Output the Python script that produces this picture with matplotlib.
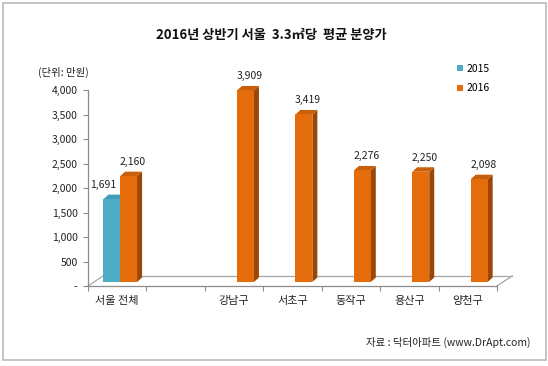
import matplotlib
matplotlib.use("Agg")
import matplotlib.pyplot as plt
from matplotlib.patches import Polygon, Rectangle
from matplotlib.ticker import FixedLocator, FuncFormatter
import numpy as np

plt.rcParams['font.family'] = ['Noto Sans CJK KR', 'DejaVu Sans']

# ---- data ----
categories = ['서울 전체', '', '강남구', '서초구', '동작구', '용산구', '양천구']
series_names = ['2015', '2016']
values_2015 = [1691, None, None, None, None, None, None]
values_2016 = [2160, None, 3909, 3419, 2276, 2250, 2098]
yticks = [0, 500, 1000, 1500, 2000, 2500, 3000, 3500, 4000]
title = '2016년 상반기 서울  3.3㎡당  평균 분양가'
unit_text = '(단위: 만원)'
source_text = '자료 : 닥터아파트 (www.DrApt.com)'

front_colors = ['#4BACC6', '#E46C0A']
side_colors = ['#2E7F95', '#9C4706']
top_colors = ['#3F9DB6', '#C95F08']

W, H = 548, 366
fig = plt.figure(figsize=(W / 100, H / 100), dpi=100)
fig.patch.set_facecolor('white')

# axes: x from 88 to 497 px, y 0 at 286 px, 4000 at 90 px
ax_l, ax_r, ax_b, ax_t = 88, 497, 286, 90
ax = fig.add_axes([ax_l / W, 1 - ax_b / H, (ax_r - ax_l) / W, (ax_b - ax_t) / H])
n = len(categories)
ax.set_xlim(-0.5, n - 0.5)
ax.set_ylim(0, 4000)

px_x = (ax_r - ax_l) / n          # px per x unit
px_y = (ax_b - ax_t) / 4000.0     # px per y unit

axis_color = '#8C8C8C'
for s in ['top', 'right']:
    ax.spines[s].set_visible(False)
ax.spines['left'].set_color(axis_color)
ax.spines['bottom'].set_color(axis_color)
ax.spines['left'].set_linewidth(0.9)
ax.spines['bottom'].set_linewidth(0.9)

# floor (3D look)
floor_dx, floor_dy = 15 / px_x, 10 / px_y
fc = '#A6A6A6'
ax.plot([-0.5, -0.5 + floor_dx], [0, floor_dy], color=fc, lw=0.9, clip_on=False)
ax.plot([n - 0.5, n - 0.5 + floor_dx], [0, floor_dy], color=fc, lw=0.9, clip_on=False)
ax.plot([-0.5 + floor_dx, n - 0.5 + floor_dx], [floor_dy, floor_dy], color=fc, lw=0.9, clip_on=False)

# bars
base = 4 / px_y
depth_dx, depth_dy = 5 / px_x, 4.5 / px_y
x = np.arange(n)
offsets = [-0.235, 0.05]
width = 0.29
label_dx = [-9, 4]
for si, vals in enumerate([values_2015, values_2016]):
    xs = [x[i] + offsets[si] for i in range(n) if vals[i] is not None]
    vs = [vals[i] for i in range(n) if vals[i] is not None]
    bars = ax.bar(xs, vs, width=width, bottom=base, align='edge',
                  color=front_colors[si], edgecolor='none', clip_on=False,
                  zorder=3 + si * 2, label=series_names[si])
    for xl, v in zip(xs, vs):
        xr = xl + width
        top = base + v
        side = Polygon([(xr, base), (xr, top), (xr + depth_dx, top + depth_dy),
                        (xr + depth_dx, base + depth_dy)], closed=True,
                       facecolor=side_colors[si], edgecolor='none', clip_on=False,
                       zorder=2 + si * 2)
        ax.add_patch(side)
        tp = Polygon([(xl, top), (xr, top), (xr + depth_dx, top + depth_dy),
                      (xl + depth_dx, top + depth_dy)], closed=True,
                     facecolor=top_colors[si], edgecolor='none', clip_on=False,
                     zorder=2 + si * 2)
        ax.add_patch(tp)
        ax.annotate(f'{v:,}', xy=(xl + width / 2, top), xytext=(label_dx[si], 14),
                    textcoords='offset pixels', ha='center', va='center',
                    fontsize=7.5, color='#222222', annotation_clip=False)

# y ticks
ax.set_yticks(yticks)
ax.yaxis.set_major_formatter(FuncFormatter(lambda v, p: '-' if v == 0 else f'{int(v):,}'))
ax.tick_params(axis='y', direction='out', length=3.5, width=0.8, color=axis_color,
               labelsize=7.5, pad=4, labelcolor='#222222')

# x ticks: labels at centers, tick marks at boundaries
ax.set_xticks(x)
ax.set_xticklabels(categories)
ax.xaxis.set_minor_locator(FixedLocator(np.arange(-0.5, n, 1.0)))
ax.tick_params(axis='x', which='major', length=0, labelsize=8, pad=7, labelcolor='#222222')
ax.tick_params(axis='x', which='minor', direction='out', length=3.5, width=0.8, color=axis_color)

# texts
fig.text(271 / W, 1 - 35 / H, title, ha='center', va='center', fontsize=9.5,
         fontweight='bold', color='#111111')
fig.text(63 / W, 1 - 72 / H, unit_text, ha='center', va='center', fontsize=7.5, color='#222222')
fig.text(530 / W, 1 - 342 / H, source_text, ha='right', va='center', fontsize=7.5, color='#222222')

# legend
handles, labels = ax.get_legend_handles_labels()
fig.legend(handles, labels, loc='upper left', bbox_to_anchor=(457 / W, 1 - 64 / H),
           frameon=False, handlelength=0.55, handleheight=0.55, handletextpad=0.4,
           labelspacing=0.9, fontsize=7.5, borderpad=0, borderaxespad=0)

# outer border
fig.patches.append(Rectangle((2.5 / W, 1 - 359.5 / H), 543 / W, 357 / H,
                             transform=fig.transFigure, fill=False,
                             edgecolor='#BFBFBF', linewidth=1.3))

fig.savefig('out.png', dpi=100, facecolor='white')
